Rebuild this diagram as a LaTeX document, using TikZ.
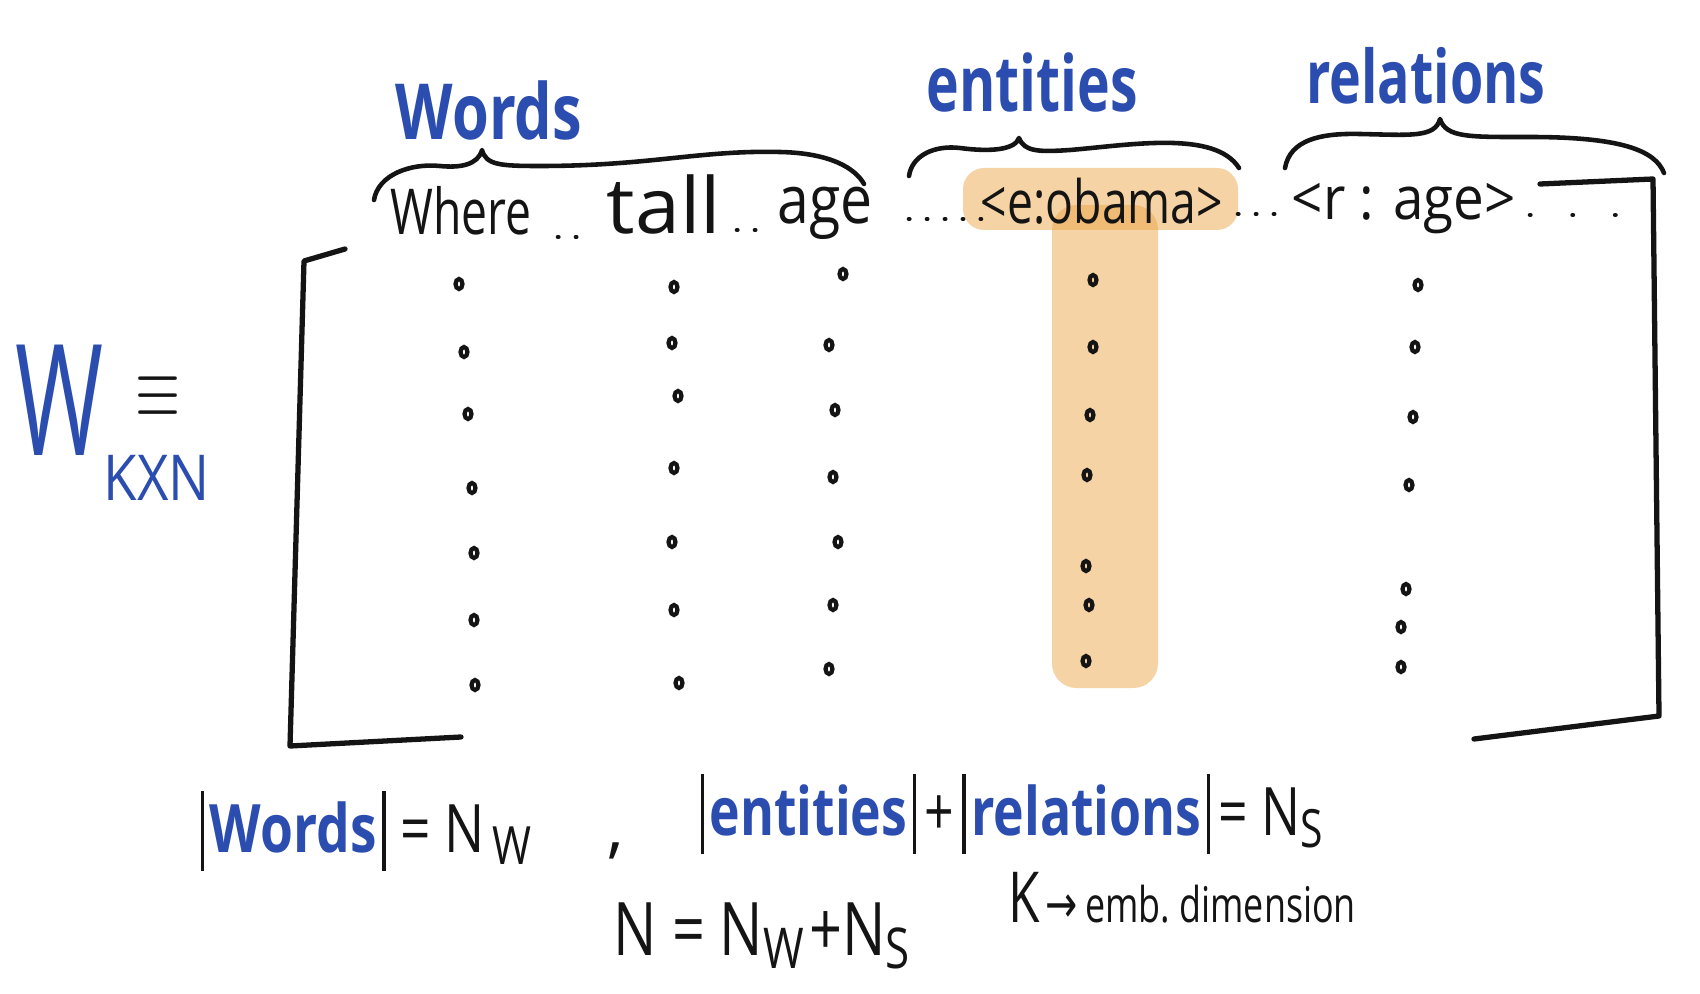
\documentclass[tikz,border=0pt]{standalone}
\usepackage{fontspec}
\usepackage{graphicx}
\setmainfont{Open Sans}
\newfontfamily\symfont{DejaVu Sans}
\definecolor{ink}{HTML}{141414}
\definecolor{penblue}{HTML}{2B4DB0}
\definecolor{hl}{RGB}{235,159,57}
\newcommand{\fitw}[2]{\resizebox{#1}{\height}{#2}}
\newcommand{\fs}[1]{\fontsize{#1}{#1}\selectfont}
\newcommand{\vbarmark}{\rule[-0.28em]{1.3pt}{1.2em}}
\tikzset{
  txt/.style={inner sep=0pt, text=ink},
  title/.style={inner sep=0pt, text=penblue, font=\bfseries},
  pen/.style={draw=ink, line width=1.3pt, line cap=round, line join=round},
  dotmark/.style={draw=ink, line width=1.2pt},
  dotsep/.style={draw=ink, line width=1.3pt, dash pattern=on 0.1pt off 5pt, line cap=round},
  hlbox/.style={fill=hl, fill opacity=0.45}
}
\begin{document}
\begin{tikzpicture}[x=0.01cm,y=-0.01cm]
\useasboundingbox (0,0) rectangle (1700,994);
\fill[white] (0,0) rectangle (1700,994);

% highlight
\fill[hlbox, rounded corners=6pt] (963,168) rectangle (1238,230);
\fill[hlbox, rounded corners=7pt] (1052,205) rectangle (1158,688);

% titles
\node[title] (wordsT) at (489,110) {\fitw{1.86cm}{\fs{22pt}Words}};
\node[title] (entT) at (1032,82) {\fitw{2.11cm}{\fs{22pt}entities}};
\node[title] (relT) at (1426,76) {\fitw{2.39cm}{\fs{21pt}relations}};

% braces
\draw[pen] (374,200) .. controls (378,175) and (410,163) .. (440,166)
  .. controls (460,168) and (478,165) .. (482,150)
  .. controls (486,165) and (500,166) .. (540,166)
  .. controls (650,166) and (700,150) .. (780,152)
  .. controls (830,153) and (855,168) .. (864,184);
\draw[pen] (909,176) .. controls (912,155) and (935,145) .. (960,148)
  .. controls (990,152) and (1015,150) .. (1019,138)
  .. controls (1024,152) and (1040,152) .. (1070,150)
  .. controls (1130,145) and (1215,130) .. (1239,168);
\draw[pen] (1285,168) .. controls (1290,140) and (1320,133) .. (1360,134)
  .. controls (1410,135) and (1435,138) .. (1440,119)
  .. controls (1446,138) and (1470,137) .. (1530,137)
  .. controls (1620,137) and (1655,150) .. (1664,173);

% tokens
\node[txt, anchor=base] (where) at (461,235) {\fitw{1.41cm}{\fs{18pt}Where}};
\node[txt, anchor=base] (tall) at (664,233) {\fitw{1.14cm}{\fs{22pt}tall}};
\node[txt, anchor=base] (age) at (825,224) {\fitw{0.95cm}{\fs{19pt}age}};
\node[txt, anchor=base] (obama) at (1102,224) {\fitw{2.42cm}{\fs{17pt}<e:obama>}};
\node[txt, anchor=base] (rage) at (1404,219) {\fitw{2.24cm}{\fs{17pt}<r : age>}};

\draw[dotsep] (558,237) -- (586,237);
\draw[dotsep] (737,230) -- (760,230);
\draw[dotsep] (909,219) -- (981,219);
\draw[dotsep] (1238,214) -- (1290,214);
\draw[dotsep, dash pattern=on 0.1pt off 12pt] (1530,215) -- (1622,215);

% matrix brackets
\draw[pen, line width=1.5pt] (345,249) -- (304,261) -- (290,746) -- (461,737);
\draw[pen, line width=1.5pt] (1540,184) -- (1653,179) -- (1659,716) -- (1474,739);

% W_{KxN} =
\node[title, font=\fs{44pt}] (W) at (60,400) {\fitw{0.88cm}{W}};
\node[txt, font=\fs{30pt}] (eq) at (158,397) {\fitw{0.45cm}{$\equiv$}};
\node[title, font=\fs{18pt}\mdseries] (kxn) at (157,478) {\fitw{1.06cm}{KXN}};

% dot columns
\foreach \x/\y in {459/284,464/352,468/414,472/488,474/553,474/620,475/685}
  \draw[dotmark] (\x,\y) ellipse [x radius=3.5, y radius=5];
\foreach \x/\y in {674/287,672/343,678/396,674/468,672/542,674/610,679/683}
  \draw[dotmark] (\x,\y) ellipse [x radius=3.5, y radius=5];
\foreach \x/\y in {843/274,829/345,835/410,833/477,838/542,833/605,829/669}
  \draw[dotmark] (\x,\y) ellipse [x radius=3.5, y radius=5];
\foreach \x/\y in {1093/280,1093/347,1090/415,1087/475,1086/566,1089/605,1086/661}
  \draw[dotmark] (\x,\y) ellipse [x radius=3.5, y radius=5];
\foreach \x/\y in {1418/285,1415/347,1413/417,1409/485,1406/589,1401/627,1401/667}
  \draw[dotmark] (\x,\y) ellipse [x radius=3.5, y radius=5];

% bottom formulas
\node[txt, anchor=base west] (f1) at (200,852) {\fitw{3.31cm}{\fs{19pt}%
  \vbarmark\kern2pt\textcolor{penblue}{\bfseries Words}\kern2pt\vbarmark\kern5pt= N\kern3pt\raisebox{-0.35ex}{\fs{15pt}W}}};
\node[txt, anchor=base] (comma) at (616,850) {\fs{19pt},};
\node[txt, anchor=base west] (f2) at (700,835) {\fitw{6.22cm}{\fs{19pt}%
  \vbarmark\kern2pt\textcolor{penblue}{\bfseries entities}\kern2pt\vbarmark\kern3pt+\kern3pt\vbarmark\kern2pt\textcolor{penblue}{\bfseries relations}\kern2pt\vbarmark\kern3pt= N\raisebox{-0.35ex}{\fs{15pt}S}}};
\node[txt, anchor=base west] (f3) at (613,955) {\fitw{2.96cm}{\fs{21pt}N = N\raisebox{-0.35ex}{\fs{16pt}W}\kern2pt+N\raisebox{-0.35ex}{\fs{16pt}S}}};
\node[txt, anchor=base west] (f4) at (1008,922) {\fitw{3.47cm}{\fs{20pt}K\kern2pt{\symfont\fs{15pt}→}\kern3pt\fs{14pt}emb.\ dimension}};
\end{tikzpicture}
\end{document}
